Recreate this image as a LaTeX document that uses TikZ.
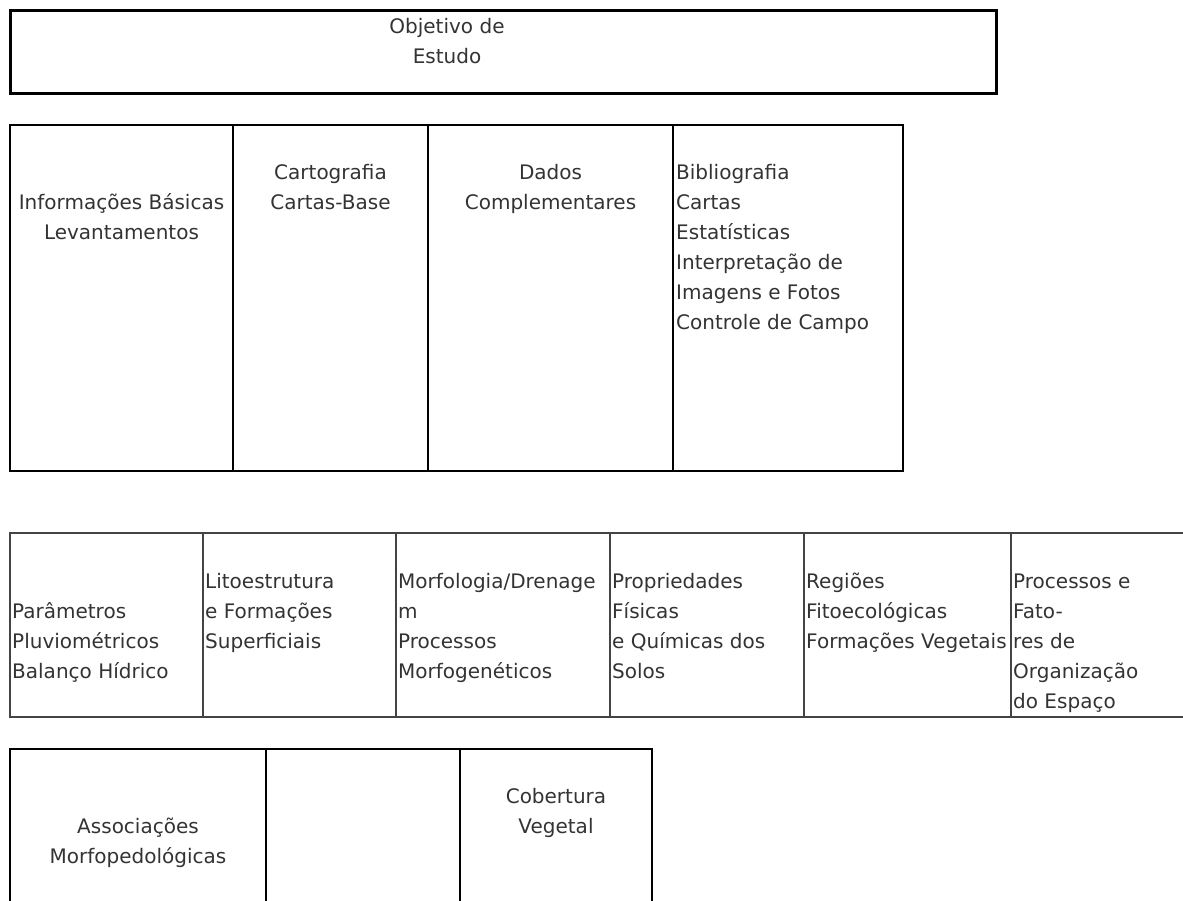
\documentclass[tikz,border=0pt]{standalone}
\usepackage{fontspec}
\setmainfont{DejaVu Sans}
\usetikzlibrary{positioning}

\definecolor{txtgray}{HTML}{333333}
\definecolor{rowgray}{HTML}{444444}
\newcommand{\lblfont}{\fontsize{20}{30}\selectfont}

\begin{document}
\begin{tikzpicture}[x=1pt,y=-1pt,
  cell/.style={draw,rectangle,inner sep=0pt,outer sep=0pt,line width=2.5pt},
  baserow/.style={cell,minimum height=346pt},
  themerow/.style={cell,draw=rowgray,line width=2pt,minimum height=184pt},
  synthrow/.style={cell,minimum height=170pt},
  lbl/.style={inner sep=0pt,text=txtgray,font=\lblfont},
  lblc/.style={lbl,align=center},
  lbll/.style={lbl,align=left}]
  \useasboundingbox (0,0) rectangle (1183,900);

  % --- Objective ---
  \node (obj) [cell,line width=3pt,anchor=north west,minimum width=986pt,minimum height=83pt] at (10,10) {};
  \node (objtxt) [lblc,below=2pt of obj.north,xshift=-56pt] {\strut Objetivo de\\Estudo};

  % --- Basic information, cells placed relative to each other ---
  \node (info) [baserow,anchor=north west,minimum width=223pt] at (10,125) {};
  \node (carto) [baserow,right=0pt of info,minimum width=195pt] {};
  \node (dados) [baserow,right=0pt of carto,minimum width=245pt] {};
  \node (fontes) [baserow,right=0pt of dados,minimum width=230pt] {};

  \node (infotxt) [lblc,below=63pt of info.north] {\strut Informações Básicas\\Levantamentos};
  \node (cartotxt) [lblc,below=33pt of carto.north] {\strut Cartografia\\Cartas-Base};
  \node (dadostxt) [lblc,below=33pt of dados.north] {\strut Dados\\Complementares};
  \node (fontestxt) [lbll,below right=33pt and 3pt of fontes.north west]
    {\strut Bibliografia\\Cartas\\Estatísticas\\Interpretação de\\Imagens e Fotos\\Controle de Campo};

  % --- Thematic studies ---
  \node (clima) [themerow,anchor=north west,minimum width=193pt] at (10,533) {};
  \node (geo) [themerow,right=0pt of clima,minimum width=193pt] {};
  \node (geomorf) [themerow,right=0pt of geo,minimum width=214pt] {};
  \node (solos) [themerow,right=0pt of geomorf,minimum width=194pt] {};
  \node (veg) [themerow,right=0pt of solos,minimum width=207pt] {};
  \node (espaco) [themerow,right=0pt of veg,minimum width=200pt] {};

  \node (climatxt) [lbll,below right=64pt and 2pt of clima.north west]
    {\strut Parâmetros\\Pluviométricos\\Balanço Hídrico};
  \node (geotxt) [lbll,below right=34pt and 2pt of geo.north west]
    {\strut Litoestrutura\\e Formações\\Superficiais};
  \node (geomorftxt) [lbll,below right=34pt and 2pt of geomorf.north west]
    {\strut Morfologia/Drenage\\m\\Processos\\Morfogenéticos};
  \node (solostxt) [lbll,below right=34pt and 2pt of solos.north west]
    {\strut Propriedades\\Físicas\\e Químicas dos\\Solos};
  \node (vegtxt) [lbll,below right=34pt and 2pt of veg.north west]
    {\strut Regiões\\Fitoecológicas\\Formações Vegetais};
  \node (espacotxt) [lbll,below right=34pt and 2pt of espaco.north west]
    {\strut Processos e\\Fato-\\res de\\Organização\\do Espaço};

  % --- Synthesis ---
  \node (assoc) [synthrow,anchor=north west,minimum width=256pt] at (10,749) {};
  \node (vazio) [synthrow,right=0pt of assoc,minimum width=194pt] {};
  \node (cobert) [synthrow,right=0pt of vazio,minimum width=192pt] {};

  \node (assoctxt) [lblc,below=63pt of assoc.north] {\strut Associações\\Morfopedológicas};
  \node (coberttxt) [lblc,below=33pt of cobert.north] {\strut Cobertura\\Vegetal};
\end{tikzpicture}
\end{document}
